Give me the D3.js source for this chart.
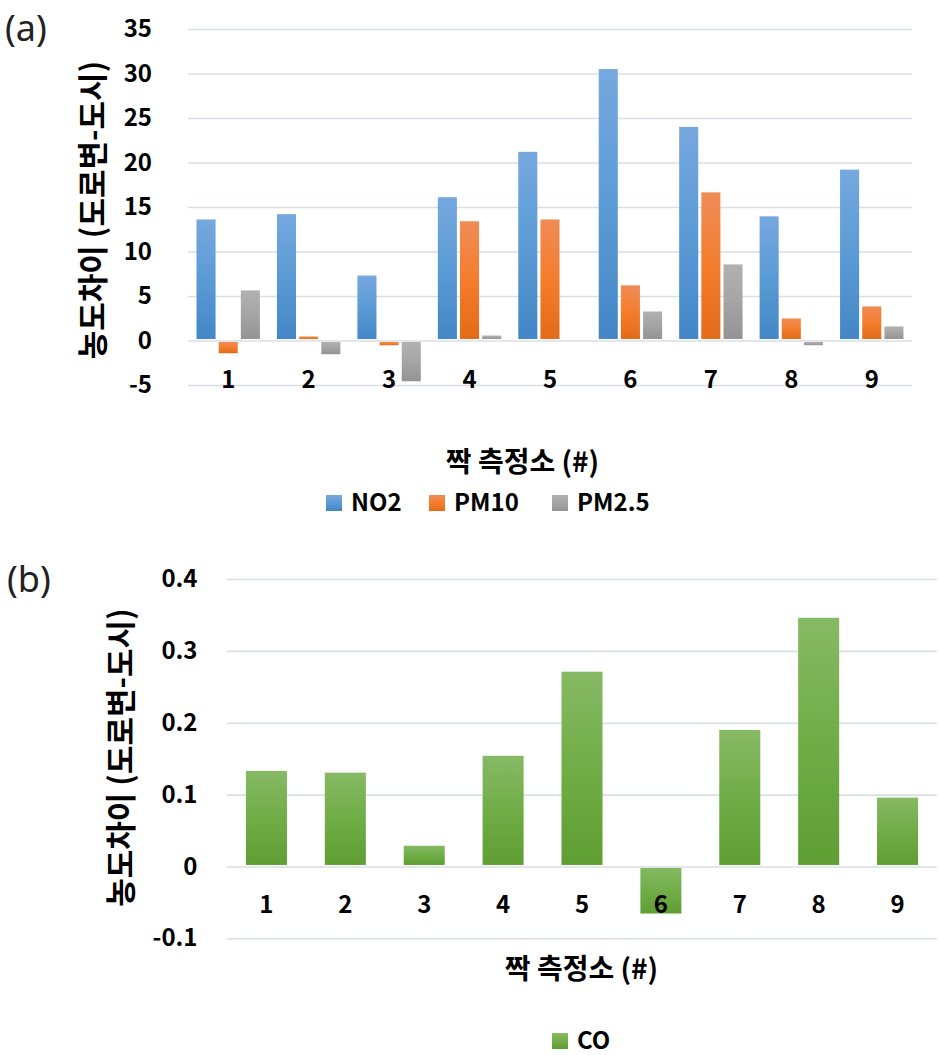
<!DOCTYPE html>
<html>
<head>
<meta charset="utf-8">
<script src="https://cdn.jsdelivr.net/npm/d3@7"></script>
<style>
  body { margin: 0; background: #fff; }
  text { font-family: "Noto Sans CJK KR", "Noto Sans", sans-serif; }
</style>
</head>
<body>
<div id="chart"></div>
<script>
// data
var sites = ["1", "2", "3", "4", "5", "6", "7", "8", "9"];
var seriesNames = ["NO2", "PM10", "PM2.5"];
var no2 = [13.6, 14.2, 7.3, 16.1, 21.2, 30.5, 24.0, 13.95, 19.2];
var pm10 = [-1.43, 0.45, -0.53, 13.4, 13.6, 6.2, 16.65, 2.48, 3.83];
var pm25 = [5.63, -1.54, -4.58, 0.56, 0, 3.26, 8.55, -0.53, 1.58];
var co = [0.133, 0.1305, 0.0288, 0.154, 0.271, -0.0655, 0.190, 0.346, 0.0958];
var topTicks = [-5, 0, 5, 10, 15, 20, 25, 30, 35];
var botTicks = [-0.1, 0, 0.1, 0.2, 0.3, 0.4];

var yTitle = "농도차이 (도로변-도시)";
var xTitle = "짝 측정소 (#)";

var svgWidth = 939;
var svgHeight = 1055;

var svg = d3.select("#chart")
    .append("svg")
    .attr("width", svgWidth)
    .attr("height", svgHeight);

// bar gradients (light top, dark bottom)
var grads = {
    NO2: ["#76a8de", "#5b9bd5", "#4486c6"],
    PM10: ["#f08c57", "#f47d2d", "#e36a17"],
    "PM2.5": ["#b1b1b1", "#a5a5a5", "#939393"],
    CO: ["#86b964", "#70ad47", "#5f9e33"]
};
var defs = svg.append("defs");
Object.keys(grads).forEach(function(k, i) {
    var g = defs.append("linearGradient")
        .attr("id", "grad" + i)
        .attr("x1", 0).attr("y1", 0).attr("x2", 0).attr("y2", 1);
    g.append("stop").attr("offset", "0%").attr("stop-color", grads[k][0]);
    g.append("stop").attr("offset", "50%").attr("stop-color", grads[k][1]);
    g.append("stop").attr("offset", "100%").attr("stop-color", grads[k][2]);
    grads[k].id = "url(#grad" + i + ")";
});

var gridColor = "#dadfe6";
var gap = 1.5; // space between bars and the zero line

// plain hyphen for negatives, like the original
var fmt = d => String(+d.toFixed(2));

function drawGrid(g, y, ticks, left, right, pad) {
    var axis = d3.axisLeft(y)
        .tickValues(ticks)
        .tickSize(-(right - left))
        .tickPadding(pad)
        .tickFormat(fmt);
    var ax = g.append("g")
        .attr("transform", `translate(${left},0)`)
        .call(axis);
    ax.select(".domain").remove();
    ax.selectAll(".tick line")
        .attr("stroke", gridColor)
        .attr("stroke-width", 1.6);
    ax.selectAll(".tick text")
        .attr("font-size", "24px")
        .attr("font-weight", "bold")
        .attr("fill", "#000");
}

function drawXLabels(g, x, y0) {
    var ax = g.append("g")
        .attr("transform", `translate(0,${y0})`)
        .call(d3.axisBottom(x).tickSize(0).tickPadding(30));
    ax.select(".domain").remove();
    ax.selectAll(".tick text")
        .attr("font-size", "24px")
        .attr("font-weight", "bold")
        .attr("fill", "#000");
}

function barY(y, v) { return v >= 0 ? y(v) : y(0) + gap; }
function barH(y, v) { return Math.max(0, Math.abs(y(v) - y(0)) - gap); }

// ---------- (a) ----------
var topG = svg.append("g");
var tLeft = 188, tRight = 912;

var yTop = d3.scaleLinear().domain([-5, 35]).range([385, 29]);
var x0 = d3.scaleBand().domain(sites).range([tLeft, tRight]);
var x1 = d3.scaleBand().domain(seriesNames).range([8.5, 71.9]).paddingInner(0.14);

drawGrid(topG, yTop, topTicks, tLeft, tRight, 36);

var topRows = sites.map(function(s, i) {
    return { site: s, values: [
        { key: "NO2", v: no2[i] },
        { key: "PM10", v: pm10[i] },
        { key: "PM2.5", v: pm25[i] }
    ]};
});

topG.selectAll("g.site")
    .data(topRows)
    .enter()
    .append("g")
    .attr("class", "site")
    .attr("transform", d => `translate(${x0(d.site)},0)`)
    .selectAll("rect")
    .data(d => d.values.filter(e => e.v !== 0))
    .enter()
    .append("rect")
    .attr("x", d => x1(d.key))
    .attr("width", x1.bandwidth())
    .attr("y", d => barY(yTop, d.v))
    .attr("height", d => barH(yTop, d.v))
    .attr("fill", d => grads[d.key].id);

drawXLabels(topG, x0, yTop(0));

topG.append("text")
    .attr("transform", `translate(104, ${(57 + 363) / 2}) rotate(-90)`)
    .attr("text-anchor", "middle")
    .attr("font-size", "31px")
    .attr("font-weight", "bold")
    .attr("fill", "#000")
    .text(yTitle);

topG.append("text")
    .attr("x", 522.5)
    .attr("y", 472)
    .attr("text-anchor", "middle")
    .attr("font-size", "28px")
    .attr("font-weight", "bold")
    .attr("fill", "#000")
    .text(xTitle);

var legTop = [{ key: "NO2", x: 326 }, { key: "PM10", x: 429 }, { key: "PM2.5", x: 552 }];
var lg = topG.selectAll("g.leg")
    .data(legTop)
    .enter()
    .append("g")
    .attr("transform", d => `translate(${d.x},495)`);
lg.append("rect")
    .attr("width", 16).attr("height", 16)
    .attr("fill", d => grads[d.key].id);
lg.append("text")
    .attr("x", 25).attr("y", 16)
    .attr("font-size", "24px")
    .attr("font-weight", "bold")
    .attr("fill", "#000")
    .text(d => d.key);

svg.append("text")
    .attr("x", 5).attr("y", 41)
    .attr("font-size", "36px")
    .attr("fill", "#222")
    .style("font-family", "'Noto Sans', sans-serif")
    .text("(a)");

// ---------- (b) ----------
var botG = svg.append("g");
var bLeft = 227, bRight = 937;

var yBot = d3.scaleLinear().domain([-0.1, 0.4]).range([938.3, 579]);
var xb = d3.scaleBand().domain(sites).range([bLeft, bRight])
    .paddingInner(0.48).paddingOuter(0.24);

drawGrid(botG, yBot, botTicks, bLeft, bRight, 29.5);

botG.selectAll("rect.co")
    .data(co)
    .enter()
    .append("rect")
    .attr("class", "co")
    .attr("x", (d, i) => xb(sites[i]))
    .attr("width", xb.bandwidth())
    .attr("y", d => barY(yBot, d))
    .attr("height", d => barH(yBot, d))
    .attr("fill", grads.CO.id);

drawXLabels(botG, d3.scaleBand().domain(sites).range([bLeft, bRight]), yBot(0));

botG.append("text")
    .attr("transform", `translate(132, ${(607 + 908) / 2}) rotate(-90)`)
    .attr("text-anchor", "middle")
    .attr("font-size", "31px")
    .attr("font-weight", "bold")
    .attr("fill", "#000")
    .text(yTitle);

botG.append("text")
    .attr("x", 581.5)
    .attr("y", 979)
    .attr("text-anchor", "middle")
    .attr("font-size", "28px")
    .attr("font-weight", "bold")
    .attr("fill", "#000")
    .text(xTitle);

var lb = botG.append("g").attr("transform", "translate(552,1033)");
lb.append("rect").attr("width", 16).attr("height", 16).attr("fill", grads.CO.id);
lb.append("text")
    .attr("x", 25).attr("y", 16)
    .attr("font-size", "24px")
    .attr("font-weight", "bold")
    .attr("fill", "#000")
    .text("CO");

svg.append("text")
    .attr("x", 7).attr("y", 592)
    .attr("font-size", "36px")
    .attr("fill", "#222")
    .style("font-family", "'Noto Sans', sans-serif")
    .text("(b)");
</script>
</body>
</html>
